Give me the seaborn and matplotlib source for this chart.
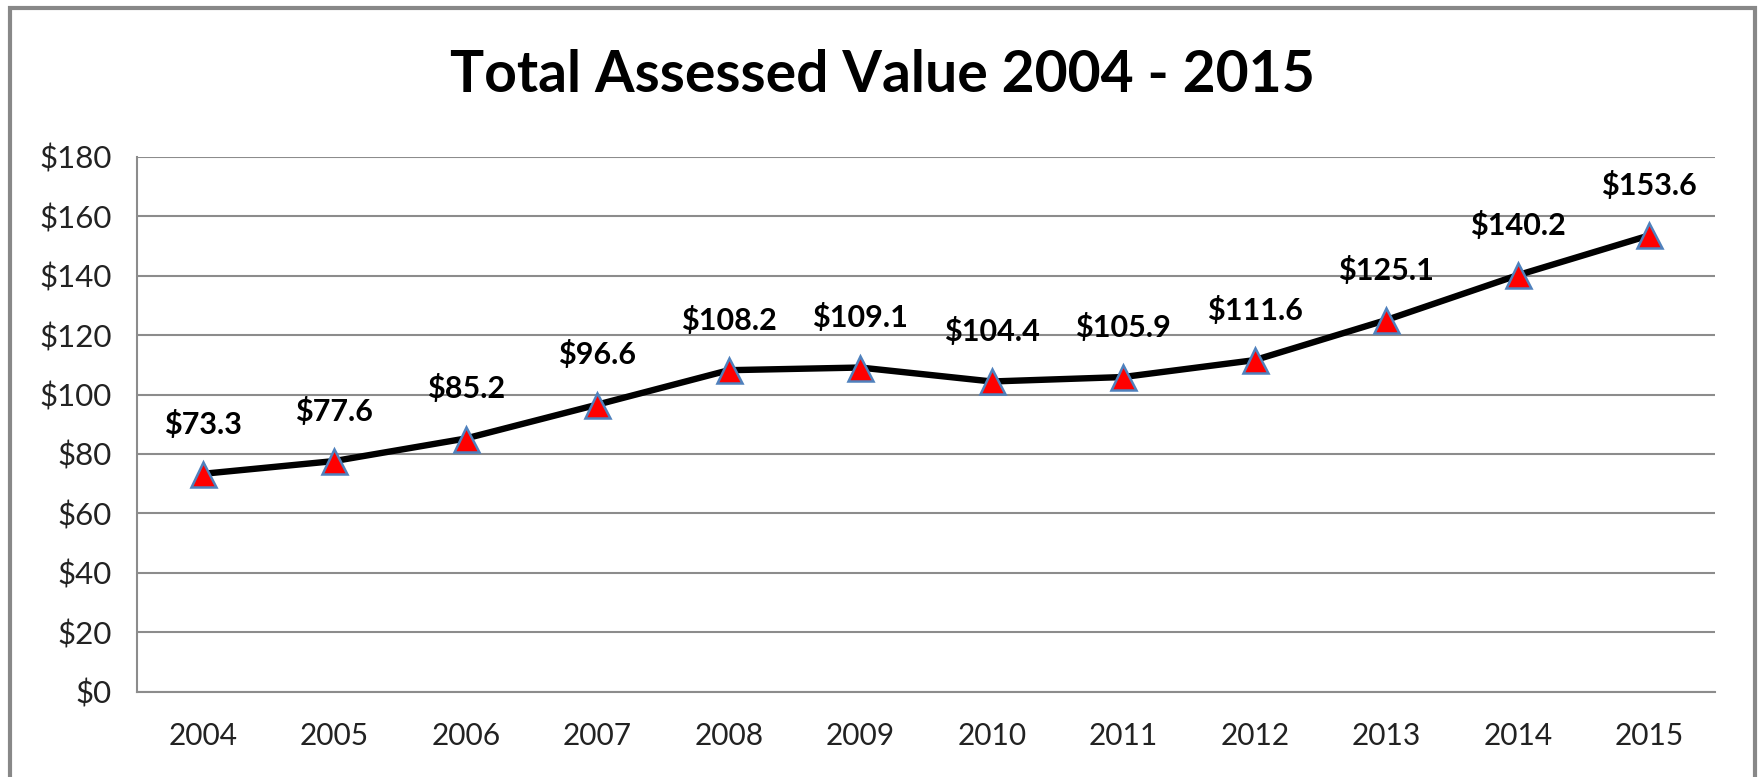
import matplotlib
matplotlib.use('Agg')
import matplotlib.pyplot as plt
from matplotlib.patches import Rectangle
from matplotlib.ticker import FixedLocator
import seaborn as sns
import pandas as pd

years = ['2004', '2005', '2006', '2007', '2008', '2009',
         '2010', '2011', '2012', '2013', '2014', '2015']
values = [73.3, 77.6, 85.2, 96.6, 108.2, 109.1, 104.4, 105.9, 111.6, 125.1, 140.2, 153.6]
y_ticks = [0, 20, 40, 60, 80, 100, 120, 140, 160, 180]
title = 'Total Assessed Value 2004 - 2015'

df = pd.DataFrame({'year': years, 'value': values})

sns.set_style('white')
plt.rcParams['font.family'] = ['Lato', 'DejaVu Sans']

fig = plt.figure(figsize=(17.6, 7.77), dpi=100)
ax = fig.add_axes([137 / 1760, 1 - 691.5 / 777, 1578 / 1760, (691.5 - 157) / 777])

sns.lineplot(data=df, x='year', y='value', ax=ax, color='black', linewidth=4.6,
             marker='^', markersize=18, markerfacecolor='#ff0000',
             markeredgecolor='#4f81bd', markeredgewidth=1.8, sort=False, zorder=3)

# value labels above each point
for i, v in enumerate(values):
    ax.annotate(f'${v:.1f}', (i, v), xytext=(0, 29), textcoords='offset points',
                ha='center', va='baseline', fontsize=22, fontweight='bold', color='black')

ax.set_xlim(-0.5, len(years) - 0.5)
ax.set_ylim(0, 180)
ax.set_yticks(y_ticks)
ax.set_yticklabels([f'${t}' for t in y_ticks])
ax.set_xticks(range(len(years)))
ax.set_xticklabels(years)
ax.xaxis.set_minor_locator(FixedLocator([i - 0.5 for i in range(len(years) + 1)]))
ax.tick_params(axis='x', which='major', length=0, pad=22, labelsize=21.5, labelcolor='#222222')
ax.tick_params(axis='x', which='minor', length=10, width=1.5, color='#8c8c8c', direction='out')
ax.tick_params(axis='y', length=10, width=1.5, color='#8c8c8c', direction='out',
               pad=8, labelsize=22.5, labelcolor='#222222')
ax.set_xlabel('')
ax.set_ylabel('')

ax.grid(axis='y', color='#8c8c8c', linewidth=1.5)
ax.set_axisbelow(True)
for side in ['top', 'right']:
    ax.spines[side].set_visible(False)
for side in ['left', 'bottom']:
    ax.spines[side].set_color('#8c8c8c')
    ax.spines[side].set_linewidth(1.5)

fig.text(882 / 1760, 1 - 75 / 777, title, ha='center', va='center',
         fontsize=41, fontweight='bold', color='black')

fig.patches.append(Rectangle((10 / 1760, -0.05), 1745 / 1760, 1.05 - 8 / 777,
                             transform=fig.transFigure, fill=False,
                             edgecolor='#888888', linewidth=3))

fig.savefig('out.png', dpi=100, facecolor='white')
